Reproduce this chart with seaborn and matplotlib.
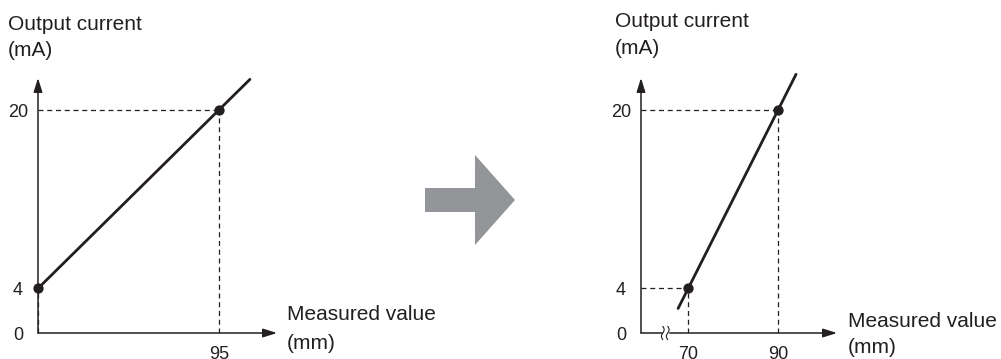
import numpy as np
import matplotlib
matplotlib.use('Agg')
import matplotlib.pyplot as plt
import seaborn as sns
from matplotlib.patches import Polygon, Rectangle

sns.set_style('white')
plt.rcParams['font.family'] = ['Liberation Sans', 'DejaVu Sans']

# values
# left: original scaling, 4 mA at 0 mm, 20 mA at 95 mm
left_line_x = [0, 111.3]
left_line_y = [4, 22.75]
left_pts_x = [0, 95]
left_pts_y = [4, 20]
left_xticks = [95]
# right: rescaled, 4 mA at 70 mm, 20 mA at 90 mm
right_line_x = [67.8, 94.0]
right_line_y = [2.2, 23.2]
right_pts_x = [70, 90]
right_pts_y = [4, 20]
right_xticks = [70, 90]
yticks = [0, 4, 20]

W, H = 1001, 359
ink = '#231f20'

fig = plt.figure(figsize=(W / 100, H / 100), dpi=100)


def box(x0, x1, ytop, ybot):
    return [x0 / W, 1 - ybot / H, (x1 - x0) / W, (ybot - ytop) / H]


def setup(ax, xlim, xticks):
    ax.set_facecolor('none')
    ax.set_xlim(*xlim)
    ax.set_ylim(0, 22.87)
    for s in ax.spines.values():
        s.set_visible(False)
    ax.set_xticks(xticks)
    ax.set_yticks(yticks)
    ax.set_yticklabels([str(v) for v in yticks])
    ax.tick_params(axis='y', length=0, pad=14.4, labelsize=13, labelcolor=ink)
    ax.tick_params(axis='x', length=0, pad=9.5, labelsize=13, labelcolor=ink)
    for lab in ax.get_yticklabels():
        lab.set_ha('center')
    ax.grid(False)
    arrow = dict(arrowstyle='-|>,head_length=0.7,head_width=0.22', lw=1.1,
                 color=ink, shrinkA=0, shrinkB=0, mutation_scale=12)
    ax.annotate('', xy=(1, 0), xytext=(0, 0), xycoords='axes fraction',
                arrowprops=arrow, zorder=1)
    ax.annotate('', xy=(0, 1), xytext=(0, 0), xycoords='axes fraction',
                arrowprops=arrow, zorder=1)


def guides(ax, xs, ys, x_left):
    for x, y in zip(xs, ys):
        if x > x_left:
            ax.hlines(y, x_left, x, colors=ink, linestyles=(0, (4, 3)), lw=0.9)
        ax.vlines(x, 0, y, colors=ink, linestyles=(0, (4, 3)), lw=0.9)


# left panel
ax1 = fig.add_axes(box(38, 277, 78, 333))
setup(ax1, (0, 125.5), left_xticks)
guides(ax1, left_pts_x, left_pts_y, 0)
sns.lineplot(x=left_line_x, y=left_line_y, ax=ax1, color=ink, linewidth=2,
             clip_on=False, zorder=3)
sns.scatterplot(x=left_pts_x, y=left_pts_y, ax=ax1, color=ink, s=55,
                edgecolor=ink, linewidth=0, clip_on=False, zorder=4)

# right panel
ax2 = fig.add_axes(box(641, 837, 78, 333))
setup(ax2, (59.56, 103.1), right_xticks)
guides(ax2, right_pts_x, right_pts_y, 59.56)
sns.lineplot(x=right_line_x, y=right_line_y, ax=ax2, color=ink, linewidth=2,
             clip_on=False, zorder=3)
sns.scatterplot(x=right_pts_x, y=right_pts_y, ax=ax2, color=ink, s=55,
                edgecolor=ink, linewidth=0, clip_on=False, zorder=4)

# axis break mark
ax2.add_patch(Rectangle((64.4, -0.3), 1.1, 0.6, color='white', zorder=5,
                        clip_on=False))
t = np.linspace(-1, 1, 40)
for xc in (64.4, 65.5):
    ax2.plot(xc + 0.3 * np.sin(np.pi * t), 0.6 * t, color=ink, lw=0.8,
             clip_on=False, zorder=6)

# axis titles
for x0, y1, y2 in ((8, 30, 56), (615, 27, 54)):
    fig.text(x0 / W, 1 - y1 / H, 'Output current', fontsize=15, color=ink,
             va='baseline')
    fig.text(x0 / W, 1 - y2 / H, '(mA)', fontsize=15, color=ink, va='baseline')
for x0, y1, y2 in ((287, 320, 349), (848, 327, 353)):
    fig.text(x0 / W, 1 - y1 / H, 'Measured value', fontsize=15, color=ink,
             va='baseline')
    fig.text(x0 / W, 1 - y2 / H, '(mm)', fontsize=15, color=ink, va='baseline')

# big grey arrow between the panels
pts = [(425, 188), (475, 188), (475, 155), (515, 200), (475, 245),
       (475, 212), (425, 212)]
fig.patches.append(Polygon([(x / W, 1 - y / H) for x, y in pts], closed=True,
                           transform=fig.transFigure, facecolor='#939598',
                           edgecolor='none'))

fig.savefig('out.png', dpi=100)
